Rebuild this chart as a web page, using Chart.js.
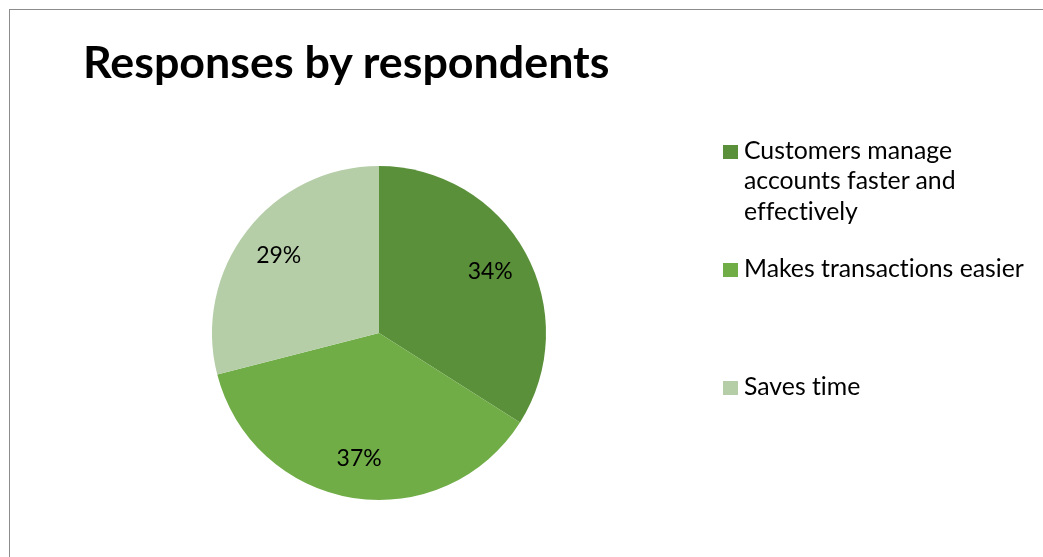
<!DOCTYPE html>
<html>
<head>
<meta charset="utf-8">
<title>Responses by respondents</title>
<script src="https://cdn.jsdelivr.net/npm/chart.js@4.4.0/dist/chart.umd.min.js"></script>
<style>
  html, body { margin: 0; padding: 0; background: #fff; }
  #wrap { position: relative; width: 1043px; height: 557px; overflow: hidden; font-family: Lato, "Open Sans", sans-serif;
          color: #000; font-variant-ligatures: none; font-feature-settings: "liga" 0, "clig" 0; }
  #frame { position: absolute; left: 9px; top: 9px; width: 1200px; height: 700px;
           border-top: 1px solid #8c8c8c; border-left: 1px solid #8c8c8c; }
  #chart { position: absolute; left: 0; top: 0; }
  #title { position: absolute; left: 83px; top: 35px; font-size: 44.8px; font-weight: bold;
           line-height: 1.2; white-space: nowrap; }
  .entry { position: absolute; left: 723px; }
  .swatch { position: absolute; left: 0; top: 10px; width: 14.5px; height: 14.5px; }
  .text { position: absolute; left: 21px; top: 0; font-size: 24.8px; line-height: 30.5px; white-space: nowrap; }
</style>
</head>
<body>
<div id="wrap">
  <div id="frame"></div>
  <canvas id="chart" width="1043" height="557"></canvas>
  <div id="title"></div>
  <div id="legend"></div>
</div>
<script>
// Survey answers: share of respondents per benefit (percent)
const chartTitle = 'Responses by respondents';
const categories = [
  ['Customers manage', 'accounts faster and', 'effectively'],
  'Makes transactions easier',
  'Saves time'
];
const shares = [34, 37, 29];
const sliceColors = ['#5b903a', '#70ad47', '#b5cea8'];

document.getElementById('title').textContent = chartTitle;

// Legend to the right of the pie, one entry per category
const legend = document.getElementById('legend');
categories.forEach((cat, i) => {
  const entry = document.createElement('div');
  entry.className = 'entry';
  entry.style.top = (134.5 + i * 118) + 'px';
  const sw = document.createElement('div');
  sw.className = 'swatch';
  sw.style.background = sliceColors[i];
  const tx = document.createElement('div');
  tx.className = 'text';
  const lines = Array.isArray(cat) ? cat : [cat];
  lines.forEach((ln, k) => {
    if (k) tx.appendChild(document.createElement('br'));
    tx.appendChild(document.createTextNode(ln));
  });
  entry.appendChild(sw);
  entry.appendChild(tx);
  legend.appendChild(entry);
});

// Percentage labels placed inside each slice along its bisector
const sliceLabels = {
  id: 'sliceLabels',
  afterDatasetsDraw(chart) {
    const ctx = chart.ctx;
    const meta = chart.getDatasetMeta(0);
    const data = chart.data.datasets[0].data;
    const total = data.reduce((a, b) => a + b, 0);
    ctx.save();
    ctx.font = '23px Lato, "Open Sans", sans-serif';
    ctx.fillStyle = '#000';
    ctx.textAlign = 'center';
    ctx.textBaseline = 'middle';
    meta.data.forEach((arc, i) => {
      const p = arc.getProps(['x', 'y', 'startAngle', 'endAngle', 'outerRadius'], true);
      const mid = (p.startAngle + p.endAngle) / 2;
      const r = p.outerRadius * 0.76;
      const pct = Math.round(data[i] / total * 100) + '%';
      ctx.fillText(pct, p.x + Math.cos(mid) * r, p.y + Math.sin(mid) * r);
    });
    ctx.restore();
  }
};

new Chart(document.getElementById('chart'), {
  type: 'pie',
  data: {
    labels: categories,
    datasets: [{
      data: shares,
      backgroundColor: sliceColors,
      borderWidth: 0
    }]
  },
  options: {
    responsive: false,
    animation: false,
    layout: { padding: { left: 212, right: 497, top: 166, bottom: 57 } },
    plugins: {
      legend: { display: false },
      tooltip: { enabled: false },
      title: { display: false }
    }
  },
  plugins: [sliceLabels]
});
</script>
</body>
</html>
